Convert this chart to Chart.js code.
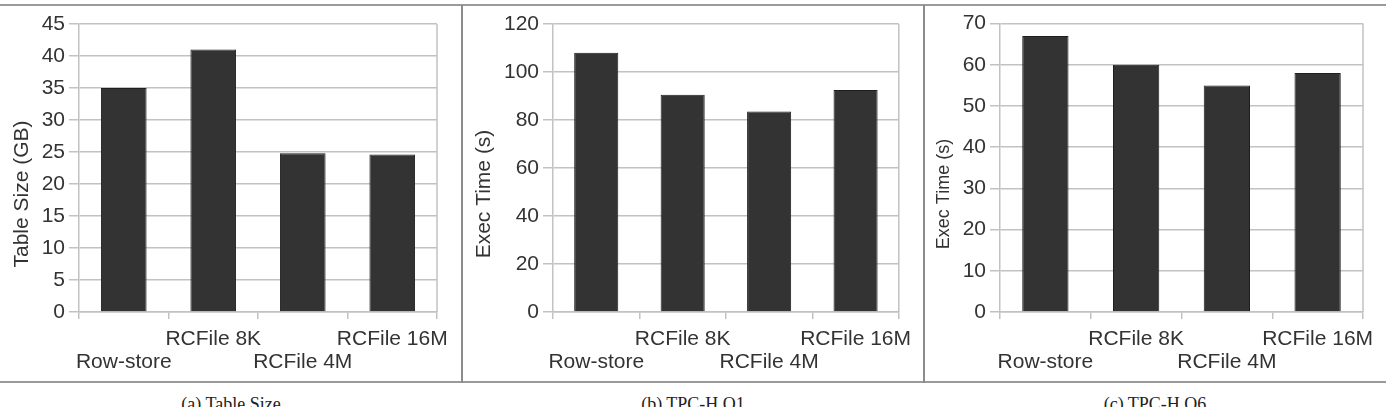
<!DOCTYPE html>
<html>
<head>
<meta charset="utf-8">
<script src="https://cdn.jsdelivr.net/npm/chart.js@4.4.0/dist/chart.umd.min.js"></script>
<style>
body { margin:0; background:#fff; }
#page { position:relative; width:1386px; height:407px; overflow:hidden; background:#fff; }
.hline { position:absolute; left:0; width:1386px; height:2px; background:#9a9a9a; }
.vline { position:absolute; top:5px; width:2px; height:378px; background:#8c8c8c; }
.panel { position:absolute; top:7px; }
.cap { position:absolute; top:395px; width:300px; text-align:center; font-size:18px; line-height:18px;
       font-family:"Liberation Serif", "Times New Roman", serif; color:#222; }
</style>
</head>
<body>
<div id="page">
  <div class="hline" style="top:4px"></div>
  <div class="hline" style="top:381px"></div>
  <div class="vline" style="left:461px"></div>
  <div class="vline" style="left:923px"></div>

  <canvas class="panel" id="c1" width="460" height="374" style="left:0px"></canvas>
  <canvas class="panel" id="c2" width="460" height="374" style="left:463px"></canvas>
  <canvas class="panel" id="c3" width="461" height="374" style="left:925px"></canvas>

  <div class="cap" style="left:81px">(a) Table Size</div>
  <div class="cap" style="left:543px">(b) TPC-H Q1</div>
  <div class="cap" style="left:1005px">(c) TPC-H Q6</div>
</div>

<script>
// data
var categories = ['Row-store', 'RCFile 8K', 'RCFile 4M', 'RCFile 16M'];
var tableSizeGB = [35, 41, 24.8, 24.6];
var q1Time = [108, 90.5, 83.5, 92.5];
var q6Time = [67, 60, 55, 58];

// y axis ranges [max, step]
var tableSizeAxis = [45, 5];
var q1Axis = [120, 20];
var q6Axis = [70, 10];

var gridColor = '#c2c2c2';
var textColor = '#333';
var fontFam = '"Liberation Sans", Arial, sans-serif';

Chart.defaults.font.family = fontFam;
Chart.defaults.font.size = 21;
Chart.defaults.color = textColor;

// right edge of plot area + rotated y title (centred on the whole panel, like excel does)
var frame = {
  id: 'frame',
  afterDraw: function(chart) {
    var a = chart.chartArea, c = chart.ctx, o = chart.options.plugins.frame;
    c.save();
    c.strokeStyle = gridColor;
    c.lineWidth = 1.5;
    c.beginPath();
    c.moveTo(a.right, a.top);
    c.lineTo(a.right, a.bottom);
    c.stroke();
    c.translate(o.x, chart.height / 2);
    c.rotate(-Math.PI / 2);
    c.font = o.size + 'px ' + fontFam;
    c.fillStyle = textColor;
    c.textAlign = 'center';
    c.textBaseline = 'middle';
    c.fillText(o.text, 0, 0);
    c.restore();
  }
};

function makeChart(id, values, axis, title, titleSize, titleX, yWidth, padTop, padRight) {
  new Chart(document.getElementById(id), {
    type: 'bar',
    data: {
      labels: categories,
      datasets: [{
        data: values,
        backgroundColor: '#333333',
        borderColor: '#1e1e1e',
        borderWidth: 1,
        categoryPercentage: 1,
        barPercentage: 0.51
      }]
    },
    options: {
      responsive: false,
      animation: false,
      layout: { padding: { top: padTop, right: padRight, left: 0, bottom: 0 } },
      plugins: {
        legend: { display: false },
        tooltip: { enabled: false },
        frame: { text: title, size: titleSize, x: titleX }
      },
      scales: {
        x: {
          grid: { offset: true, drawOnChartArea: false, tickLength: 7, color: gridColor, lineWidth: 1.5 },
          border: { color: gridColor, width: 1.5 },
          ticks: {
            autoSkip: false, maxRotation: 0, minRotation: 0, padding: 9,
            font: { size: 21, lineHeight: 1.1 },
            // staggered labels: odd ones on the upper line
            callback: function(v, i) {
              return i % 2 ? [categories[i], ''] : ['', categories[i]];
            }
          },
          afterFit: function(s) { s.height = 69; }
        },
        y: {
          min: 0,
          max: axis[0],
          ticks: { stepSize: axis[1], padding: 4 },
          grid: { color: gridColor, lineWidth: 1.5, tickLength: 10 },
          border: { color: gridColor, width: 1.5 },
          afterFit: function(s) { s.width = yWidth; }
        }
      }
    },
    plugins: [frame]
  });
}

makeChart('c1', tableSizeGB, tableSizeAxis, 'Table Size (GB)', 21, 22.5, 79, 17, 23);
makeChart('c2', q1Time, q1Axis, 'Exec Time (s)', 21, 21.5, 90, 17, 24);
makeChart('c3', q6Time, q6Axis, 'Exec Time (s)', 18, 19, 75, 16, 23);
</script>
</body>
</html>
